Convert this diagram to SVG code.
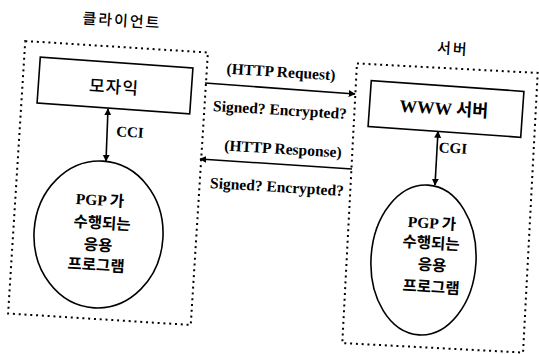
<svg xmlns="http://www.w3.org/2000/svg" width="539" height="354" viewBox="0 0 539 354">
<defs>
<marker id="ah" viewBox="0 0 10 10" refX="9" refY="5" markerWidth="7" markerHeight="7" markerUnits="userSpaceOnUse" orient="auto-start-reverse">
<path d="M0,0 L10,5 L0,10 Z" fill="#000"/>
</marker>
</defs>
<style>
.frame{fill:none;stroke:#000;stroke-width:2;stroke-dasharray:2 3.8}
.box{fill:#fff;stroke:#000;stroke-width:1.6}
.ell{fill:#fff;stroke:#000;stroke-width:1.6}
.con{fill:none;stroke:#000;stroke-width:1.6}
.lat{font-family:"Liberation Serif","Times New Roman",serif;font-weight:bold;fill:#000;text-anchor:middle}
.kr{font-family:"Noto Sans CJK KR","Noto Sans CJK SC",sans-serif;font-weight:500;fill:#000;text-anchor:middle}
.krb{font-family:"Noto Sans CJK KR","Noto Sans CJK SC",sans-serif;font-weight:bold;fill:#000;text-anchor:middle}
.mix{font-family:"Liberation Serif","Noto Sans CJK KR",serif;font-weight:bold;fill:#000;text-anchor:middle}
.k{font-family:"Noto Sans CJK KR","Noto Sans CJK SC",sans-serif;font-weight:bold}
</style>
<rect width="539" height="354" fill="#fff"/>

<g id="client">
<rect class="frame" x="16.5" y="46.5" width="183" height="273" transform="rotate(3.6 108 183)"/>
<text class="kr" x="122" y="26" font-size="15" letter-spacing="2" transform="rotate(3.5 122 20)">클라이언트</text>
</g>

<g id="server">
<rect class="frame" x="349.5" y="68" width="181" height="280" transform="rotate(3 440 208)"/>
<text class="kr" x="453" y="54" font-size="15" letter-spacing="2" transform="rotate(3.5 453 48)">서버</text>
</g>

<g id="mosaic">
<rect class="box" x="38.5" y="62.5" width="153" height="46" transform="rotate(4 115 85.5)"/>
<text class="kr" x="114" y="93" font-size="17" letter-spacing="1" transform="rotate(3.5 114 87)">모자익</text>
</g>

<g id="www">
<rect class="box" x="369.5" y="86" width="153" height="46" transform="rotate(4 446 109)"/>
<text class="mix" x="444" y="114.5" font-size="17.5" transform="rotate(3.5 444 108)">WWW <tspan class="k">서버</tspan></text>
</g>

<g id="client-app">
<ellipse class="ell" cx="98.5" cy="234.5" rx="64.5" ry="73.5" transform="rotate(3.5 98.5 234.5)"/>
<text class="mix" x="100" y="205.5" font-size="15.5" transform="rotate(3.5 100 200)">PGP <tspan class="k">가</tspan></text>
<text class="krb" x="102" y="228.5" font-size="15.5" transform="rotate(3.5 102 223)">수행되는</text>
<text class="krb" x="98" y="250.5" font-size="15.5" transform="rotate(3.5 98 245)">응용</text>
<text class="krb" x="96" y="270.5" font-size="15.5" transform="rotate(3.5 96 265)">프로그램</text>
</g>

<g id="server-app">
<ellipse class="ell" cx="423.5" cy="260" rx="52.5" ry="75" transform="rotate(3.5 423.5 260)"/>
<text class="mix" x="432" y="228.5" font-size="15.5" transform="rotate(3.5 432 223)">PGP <tspan class="k">가</tspan></text>
<text class="krb" x="431" y="248.5" font-size="15.5" transform="rotate(3.5 431 243)">수행되는</text>
<text class="krb" x="432" y="270.5" font-size="15.5" transform="rotate(3.5 432 265)">응용</text>
<text class="krb" x="431" y="292.5" font-size="15.5" transform="rotate(3.5 431 287)">프로그램</text>
</g>

<g id="connectors">
<line class="con" x1="205" y1="83" x2="355" y2="94" marker-end="url(#ah)"/>
<line class="con" x1="352" y1="169" x2="200" y2="159" marker-end="url(#ah)"/>
<line class="con" x1="108" y1="109" x2="106" y2="161" marker-start="url(#ah)" marker-end="url(#ah)"/>
<line class="con" x1="438" y1="131.5" x2="435" y2="185" marker-start="url(#ah)" marker-end="url(#ah)"/>
</g>

<g id="labels">
<text class="lat" x="281" y="77" font-size="15.5" transform="rotate(3.5 281 72)">(HTTP Request)</text>
<text class="lat" x="280" y="115" font-size="15.5" transform="rotate(3.5 280 110)">Signed? Encrypted?</text>
<text class="lat" x="283" y="154" font-size="15.5" transform="rotate(3.5 283 149)">(HTTP Response)</text>
<text class="lat" x="277" y="192" font-size="15.5" transform="rotate(3.5 277 187)">Signed? Encrypted?</text>
<text class="lat" x="130" y="137" font-size="15" transform="rotate(3.5 130 132)">CCI</text>
<text class="lat" x="453" y="153" font-size="15" transform="rotate(3.5 453 148)">CGI</text>
</g>
</svg>
